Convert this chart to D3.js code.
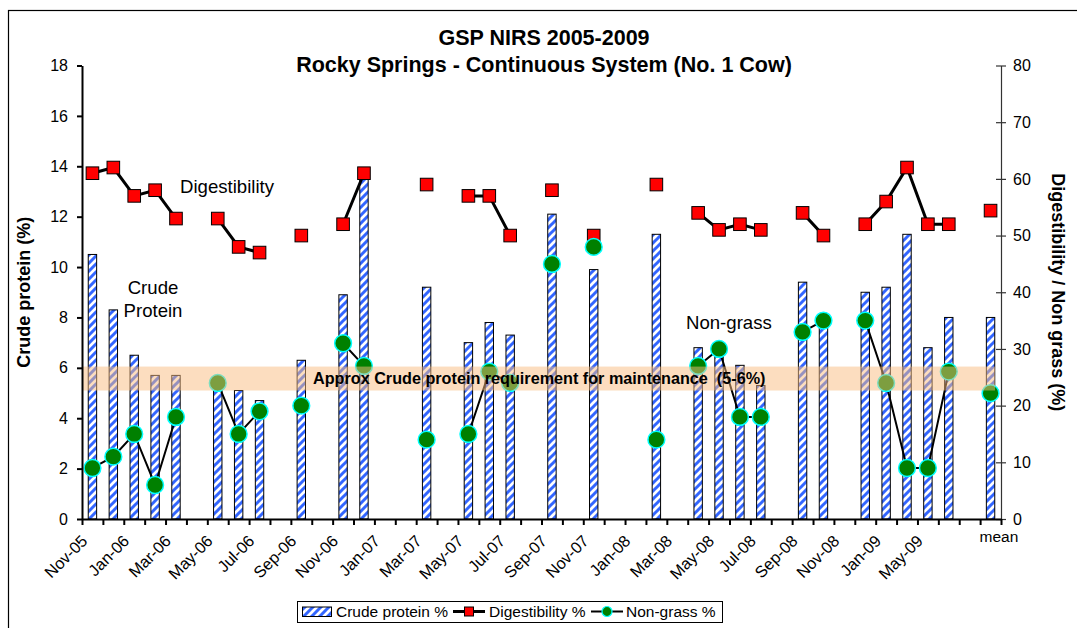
<!DOCTYPE html>
<html>
<head>
<meta charset="utf-8">
<script src="https://cdn.jsdelivr.net/npm/d3@7"></script>
<style>
  html, body { margin: 0; padding: 0; background: #fff; }
  svg { display: block; font-family: "Liberation Sans", Arial, sans-serif; }
</style>
</head>
<body>
<svg id="chart" width="1077" height="628"></svg>
<script>
// Sampling dates (one slot per month, last slot is the overall mean)
const categories = [
  "Nov-05","Dec-05","Jan-06","Feb-06","Mar-06","Apr-06","May-06","Jun-06","Jul-06","Aug-06",
  "Sep-06","Oct-06","Nov-06","Dec-06","Jan-07","Feb-07","Mar-07","Apr-07","May-07","Jun-07",
  "Jul-07","Aug-07","Sep-07","Oct-07","Nov-07","Dec-07","Jan-08","Feb-08","Mar-08","Apr-08",
  "May-08","Jun-08","Jul-08","Aug-08","Sep-08","Oct-08","Nov-08","Dec-08","Jan-09","Mar-09",
  "May-09","Jul-09","","mean"
];

// Crude protein % (left axis)
const crudeProtein = [
  10.5, 8.3, 6.5, 5.7, 5.7, null, 5.4, 5.1, 4.7, null,
  6.3, null, 8.9, 13.6, null, null, 9.2, null, 7.0, 7.8,
  7.3, null, 12.1, null, 9.9, null, null, 11.3, null, 6.8,
  6.9, 6.1, 5.3, null, 9.4, 7.9, null, 9.0, 9.2, 11.3,
  6.8, 8.0, null, 8.0
];

// Digestibility % (right axis)
const digestibility = [
  61, 62, 57, 58, 53, null, 53, 48, 47, null,
  50, null, 52, 61, null, null, 59, null, 57, 57,
  50, null, 58, null, 50, null, null, 59, null, 54,
  51, 52, 51, null, 54, 50, null, 52, 56, 62,
  52, 52, null, 54.4
];

// Non-grass % (right axis)
const nonGrass = [
  9, 11, 15, 6, 18, null, 24, 15, 19, null,
  20, null, 31, 27, null, null, 14, null, 15, 26,
  24, null, 45, null, 48, null, null, 14, null, 27,
  30, 18, 18, null, 33, 35, null, 35, 24, 9,
  9, 26, null, 22.2
];

const leftTicks = [0, 2, 4, 6, 8, 10, 12, 14, 16, 18];
const rightTicks = [0, 10, 20, 30, 40, 50, 60, 70, 80];
const requirementBand = [5.1, 6.05];

const svg = d3.select("#chart");
const FONT = '"Liberation Sans", Arial, sans-serif';

// Plot geometry
const plotLeft = 82, plotRight = 1001, plotTop = 65.5, plotBottom = 519;

const idx = d3.range(categories.length);
const x = d3.scaleBand().domain(idx).range([plotLeft, plotRight]).padding(0);
const xEdge = d3.scaleLinear().domain([0, categories.length]).range([plotLeft, plotRight]);
const yL = d3.scaleLinear().domain([0, 18]).range([plotBottom, plotTop]);
const yR = d3.scaleLinear().domain([0, 80]).range([plotBottom, plotTop]);
const cx = i => x(i) + x.bandwidth() / 2;

// Outer frame
svg.append("rect")
  .attr("x", 8.5).attr("y", 10.5).attr("width", 1100).attr("height", 700)
  .attr("fill", "none").attr("stroke", "#000").attr("stroke-width", 1.2);

// Striped fill for the protein bars
const defs = svg.append("defs");
const pat = defs.append("pattern")
  .attr("id", "stripes").attr("patternUnits", "userSpaceOnUse")
  .attr("width", 8).attr("height", 8);
pat.append("rect").attr("width", 8).attr("height", 8).attr("fill", "#fff");
pat.append("path")
  .attr("d", "M-2,2 L2,-2 M0,8 L8,0 M6,10 L10,6")
  .attr("stroke", "#3366ff").attr("stroke-width", 3);

// Bars
const barW = 8.4;
svg.append("g").selectAll("rect")
  .data(idx.filter(i => crudeProtein[i] != null))
  .join("rect")
  .attr("x", i => cx(i) - barW / 2)
  .attr("y", i => yL(crudeProtein[i]))
  .attr("width", barW)
  .attr("height", i => yL(0) - yL(crudeProtein[i]))
  .attr("fill", "url(#stripes)")
  .attr("stroke", "#000").attr("stroke-width", 1);

// Digestibility line + markers
const lineD = d3.line()
  .defined(i => digestibility[i] != null)
  .x(i => cx(i)).y(i => yR(digestibility[i]));
svg.append("path").datum(idx)
  .attr("d", lineD).attr("fill", "none")
  .attr("stroke", "#000").attr("stroke-width", 3);
const sq = 12.6;
svg.append("g").selectAll("rect")
  .data(idx.filter(i => digestibility[i] != null))
  .join("rect")
  .attr("x", i => cx(i) - sq / 2)
  .attr("y", i => yR(digestibility[i]) - sq / 2)
  .attr("width", sq).attr("height", sq)
  .attr("fill", "#ff0000").attr("stroke", "#000").attr("stroke-width", 1);

// Non-grass line + markers
const lineN = d3.line()
  .defined(i => nonGrass[i] != null)
  .x(i => cx(i)).y(i => yR(nonGrass[i]));
svg.append("path").datum(idx)
  .attr("d", lineN).attr("fill", "none")
  .attr("stroke", "#000").attr("stroke-width", 2);
svg.append("g").selectAll("circle")
  .data(idx.filter(i => nonGrass[i] != null))
  .join("circle")
  .attr("cx", i => cx(i))
  .attr("cy", i => yR(nonGrass[i]))
  .attr("r", 8.4)
  .attr("fill", "#008000").attr("stroke", "#00ffff").attr("stroke-width", 1.5);

// Maintenance requirement band (translucent, over the marks)
svg.append("rect")
  .attr("x", plotLeft + 1).attr("width", 995 - plotLeft - 1)
  .attr("y", yL(requirementBand[1]))
  .attr("height", yL(requirementBand[0]) - yL(requirementBand[1]))
  .attr("fill", "rgb(250,188,128)").attr("opacity", 0.5);
svg.append("text")
  .attr("x", 313).attr("y", 384)
  .attr("font-family", FONT).attr("font-size", 16.2).attr("font-weight", "bold")
  .style("white-space", "pre")
  .text("Approx Crude protein requirement for maintenance  (5-6%)");

// Left axis
const gL = svg.append("g").attr("transform", `translate(${plotLeft},0)`)
  .call(d3.axisLeft(yL).tickValues(leftTicks).tickSize(5).tickSizeOuter(0).tickPadding(9));
gL.select(".domain").attr("stroke", "#000").attr("stroke-width", 2);
gL.selectAll(".tick line").attr("stroke", "#000").attr("stroke-width", 2);
gL.selectAll(".tick text").attr("font-family", FONT).attr("font-size", 16).attr("fill", "#000");

// Right axis (cross ticks)
const gR = svg.append("g").attr("transform", `translate(${plotRight},0)`)
  .call(d3.axisRight(yR).tickValues(rightTicks).tickSize(5).tickSizeOuter(0).tickPadding(7));
gR.select(".domain").attr("stroke", "#333").attr("stroke-width", 1.2);
gR.selectAll(".tick line").attr("x1", -5).attr("x2", 5).attr("stroke", "#333").attr("stroke-width", 1.2);
gR.selectAll(".tick text").attr("font-family", FONT).attr("font-size", 16).attr("fill", "#000");

// Bottom axis: ticks on category boundaries
const gB = svg.append("g").attr("transform", `translate(0,${plotBottom})`)
  .call(d3.axisBottom(xEdge).tickValues(d3.range(categories.length + 1))
    .tickFormat("").tickSize(6).tickSizeOuter(0));
gB.select(".domain").attr("stroke", "#000").attr("stroke-width", 2);
gB.selectAll(".tick line").attr("stroke", "#000").attr("stroke-width", 2);

// Category labels, every second month, rotated
svg.append("g").selectAll("text")
  .data(idx.filter(i => i % 2 === 0 && categories[i] !== "" && categories[i] !== "mean"))
  .join("text")
  .attr("transform", i => `translate(${cx(i) - 4},${plotBottom + 23}) rotate(-45)`)
  .attr("text-anchor", "end")
  .attr("font-family", FONT).attr("font-size", 16.3)
  .text(i => categories[i]);
const meanIdx = categories.indexOf("mean");
svg.append("text")
  .attr("x", cx(meanIdx) - 11).attr("y", 542)
  .attr("font-family", FONT).attr("font-size", 15.5)
  .text("mean");

// Titles
svg.append("text").attr("x", 544).attr("y", 45).attr("text-anchor", "middle")
  .attr("font-family", FONT).attr("font-size", 21.5).attr("font-weight", "bold")
  .text("GSP NIRS 2005-2009");
svg.append("text").attr("x", 544).attr("y", 72).attr("text-anchor", "middle")
  .attr("font-family", FONT).attr("font-size", 21.5).attr("font-weight", "bold")
  .text("Rocky Springs - Continuous System (No. 1 Cow)");

svg.append("text")
  .attr("transform", `translate(30,${(plotTop + plotBottom) / 2}) rotate(-90)`)
  .attr("text-anchor", "middle")
  .attr("font-family", FONT).attr("font-size", 18).attr("font-weight", "bold")
  .text("Crude protein (%)");
svg.append("text")
  .attr("transform", `translate(1052,${(plotTop + plotBottom) / 2}) rotate(90)`)
  .attr("text-anchor", "middle")
  .attr("font-family", FONT).attr("font-size", 18).attr("font-weight", "bold")
  .text("Digestibility / Non grass (%)");

// Series annotations
const ann = svg.append("g").attr("font-family", FONT).attr("font-size", 18.6);
ann.append("text").attr("x", 180).attr("y", 193).text("Digestibility");
ann.append("text").attr("x", 153).attr("y", 294).attr("text-anchor", "middle").text("Crude");
ann.append("text").attr("x", 153).attr("y", 317).attr("text-anchor", "middle").text("Protein");
ann.append("text").attr("x", 686).attr("y", 329).text("Non-grass");

// Legend
const lg = svg.append("g");
lg.append("rect").attr("x", 297.5).attr("y", 601.5).attr("width", 425).attr("height", 21)
  .attr("fill", "#fff").attr("stroke", "#000").attr("stroke-width", 1);
lg.append("rect").attr("x", 302.5).attr("y", 607).attr("width", 29).attr("height", 9.5)
  .attr("fill", "url(#stripes)").attr("stroke", "#000").attr("stroke-width", 1);
lg.append("path").attr("d", "M453,611.5H485").attr("stroke", "#000").attr("stroke-width", 3);
lg.append("rect").attr("x", 464.5).attr("y", 607).attr("width", 9).attr("height", 9)
  .attr("fill", "#ff0000").attr("stroke", "#000").attr("stroke-width", 1);
lg.append("path").attr("d", "M591,611.5H623").attr("stroke", "#000").attr("stroke-width", 2);
lg.append("circle").attr("cx", 607).attr("cy", 611.5).attr("r", 5)
  .attr("fill", "#008000").attr("stroke", "#00ffff").attr("stroke-width", 1.2);
const lt = lg.append("g").attr("font-family", FONT).attr("font-size", 15.5);
lt.append("text").attr("x", 336).attr("y", 617).text("Crude protein %");
lt.append("text").attr("x", 489).attr("y", 617).text("Digestibility %");
lt.append("text").attr("x", 626).attr("y", 617).text("Non-grass %");
</script>
</body>
</html>
